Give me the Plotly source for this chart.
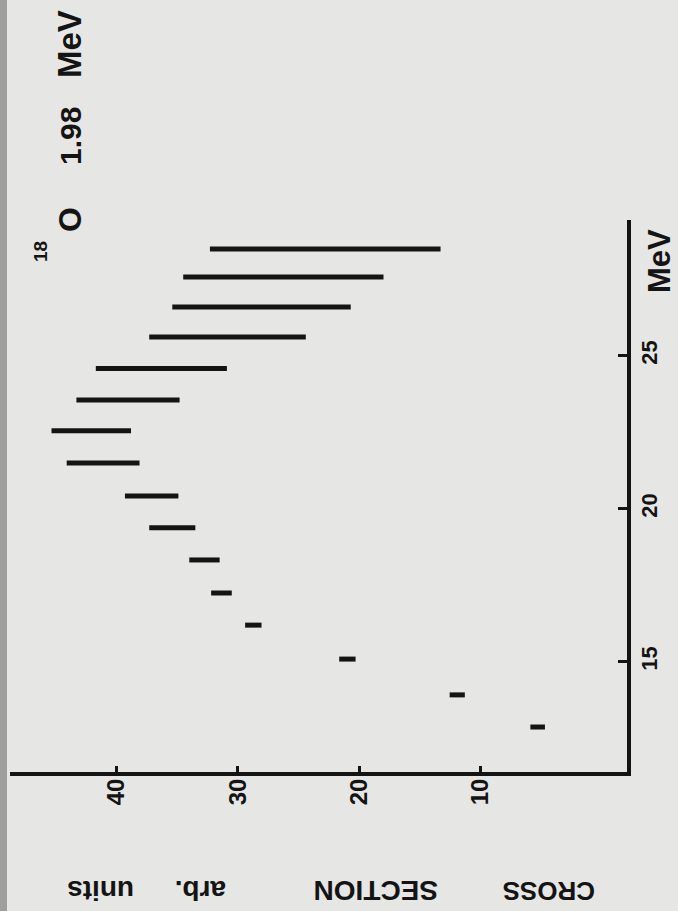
import plotly.graph_objects as go

# ---- data read from the (rotated) scan ----
energy_mev = [12.87, 13.92, 15.09, 16.20, 17.25, 18.33, 19.38, 20.42,
              21.50, 22.55, 23.56, 24.59, 25.62, 26.60, 27.58, 28.49]
xs_low = [4.7, 11.3, 20.3, 28.05, 30.5, 31.5, 33.5, 34.9,
          38.1, 38.8, 34.8, 30.9, 24.4, 20.7, 18.0, 13.3]
xs_high = [5.9, 12.55, 21.65, 29.4, 32.2, 34.0, 37.3, 39.3,
           44.1, 45.35, 43.3, 41.7, 37.3, 35.4, 34.5, 32.3]
xs_ticks = [10, 20, 30, 40]
e_ticks = [15, 20, 25]

INK = "#141414"
PAPER = "#e6e6e4"
FONT = "Liberation Sans"

W_PX, H_PX = 678, 911
L, R, T, B = 10, 51, 220, 139
PW, PH = W_PX - L - R, H_PX - T - B


def px(x):
    return (x - L) / PW


def py(y):
    return 1 - (y - T) / PH


# build segments (horizontal in the rotated view)
seg_x, seg_y = [], []
for e, lo, hi in zip(energy_mev, xs_low, xs_high):
    seg_x += [lo, hi, None]
    seg_y += [e, e, None]

fig = go.Figure()
fig.add_trace(go.Scatter(x=seg_x, y=seg_y, mode="lines",
                         line=dict(color=INK, width=5),
                         showlegend=False, hoverinfo="skip"))

fig.update_layout(
    width=W_PX, height=H_PX,
    margin=dict(l=L, r=R, t=T, b=B, pad=0),
    paper_bgcolor=PAPER, plot_bgcolor=PAPER,
    showlegend=False,
    xaxis=dict(range=[48.77, -2.06], showgrid=False, zeroline=False,
               showline=True, linewidth=4, linecolor=INK,
               ticks="inside", ticklen=6, tickwidth=3, tickcolor=INK,
               tickvals=xs_ticks, ticktext=[str(v) for v in xs_ticks],
               tickangle=-90, ticklabelstandoff=-7,
               tickfont=dict(family=FONT, size=24, color=INK, weight="bold")),
    yaxis=dict(range=[11.40, 29.44], side="right", showgrid=False,
               zeroline=False, showline=True, linewidth=4, linecolor=INK,
               ticks="inside", ticklen=9, tickwidth=3, tickcolor=INK,
               tickvals=e_ticks, ticktext=[str(v) for v in e_ticks],
               tickangle=-90,
               tickfont=dict(family=FONT, size=22, color=INK, weight="bold")),
)


def note(text, x, y, size, angle):
    fig.add_annotation(text=text, x=px(x), y=py(y), xref="paper", yref="paper",
                       showarrow=False, textangle=angle,
                       xanchor="center", yanchor="middle",
                       font=dict(family=FONT, size=size, color=INK, weight="bold"))


# axis titles (rotated like the scan)
note("CROSS", 549, 891, 26, 180)
note("SECTION", 376, 891, 28, 180)
note("arb.", 201, 891, 28, 180)
note("units", 100, 891, 28, 180)
note("MeV", 659, 261, 31, -90)

# panel label  18O  1.98 MeV
note("18", 40, 252, 19, -90)
note("O", 70, 220, 32, -90)
note("1.98", 70, 136, 30, -90)
note("MeV", 70, 44, 33, -90)

# scan edge strip on the left
fig.add_shape(type="rect", xref="paper", yref="paper",
              x0=px(0), x1=px(7), y0=py(H_PX), y1=py(0),
              fillcolor="#9e9e9c", line=dict(width=0), layer="above")

fig.write_html("out.html", config={"displayModeBar": False},
               post_script="document.body.style.margin='0';")
